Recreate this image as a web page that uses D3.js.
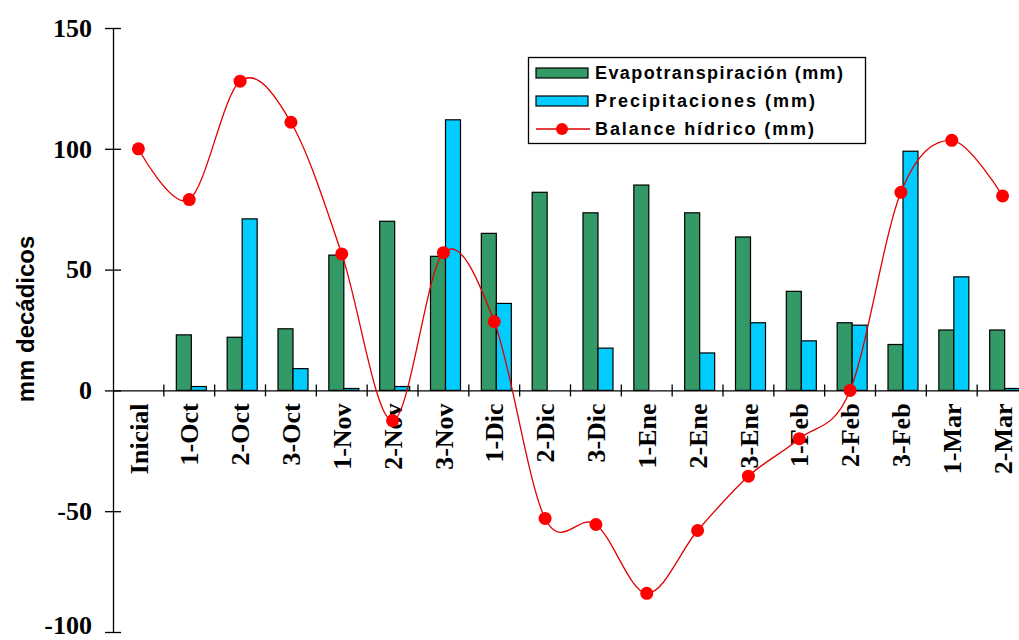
<!doctype html>
<html>
<head>
<meta charset="utf-8">
<style>
    body { margin: 0; background: #fff; }
    svg { display: block; }
    .lbl { font-family: "Liberation Serif", "Times New Roman", serif; font-weight: bold; font-size: 26px; fill: #000; }
    .leg { font-family: "Liberation Sans", Arial, sans-serif; font-weight: bold; font-size: 18px; fill: #000; }
</style>
<script src="https://d3js.org/d3.v7.min.js"></script>
</head>
<body>
<svg width="1019" height="640"></svg>
<script>
var categories = ["Inicial", "1-Oct", "2-Oct", "3-Oct", "1-Nov", "2-Nov", "3-Nov", "1-Dic", "2-Dic",
                  "3-Dic", "1-Ene", "2-Ene", "3-Ene", "1-Feb", "2-Feb", "3-Feb", "1-Mar", "2-Mar"];
var evapo   = [0, 23, 22, 25.5, 56, 70, 55.5, 65, 82, 73.5, 85, 73.5, 63.5, 41, 28, 19, 25, 25];
var precip  = [0, 1.6, 71, 9, 0.8, 1.6, 112, 36, 0, 17.5, 0, 15.5, 28, 20.5, 27, 99, 47, 0.8];
var balance = [100, 79, 128, 111, 56.5, -12.5, 57, 28.5, -53, -55.5, -84, -58, -35.5, -20, 0, 82, 103.5, 80.5];
var yTicks  = [150, 100, 50, 0, -50, -100];
var seriesNames = ["Evapotranspiración (mm)", "Precipitaciones (mm)", "Balance hídrico (mm)"];

var svg = d3.select("svg");

var x0 = d3.scaleBand().domain(categories).range([113, 1028]);
var x1 = d3.scaleBand().domain(["e", "p"]).range([12.5, 42.5]);
var y = d3.scaleLinear().domain([-100, 150]).range([632, 28]);

// bars
var groups = svg.append("g").selectAll("g")
    .data(categories)
    .enter().append("g")
    .attr("transform", function(d) { return "translate(" + x0(d) + ",0)"; });

groups.each(function(c, i) {
    var g = d3.select(this);
    [["e", evapo[i], "#339966"], ["p", precip[i], "#00ccff"]].forEach(function(s) {
        if (s[1] <= 0) return;
        g.append("rect")
            .attr("x", x1(s[0]))
            .attr("y", y(s[1]))
            .attr("width", x1.bandwidth())
            .attr("height", y(0) - y(s[1]))
            .attr("fill", s[2])
            .attr("stroke", "#000")
            .attr("stroke-width", 1.2);
    });
});

// y axis
var yAxis = svg.append("g")
    .attr("transform", "translate(113,0)")
    .call(d3.axisLeft(y).tickValues(yTicks).tickFormat(function(d) { return String(d); })
        .tickSizeInner(8).tickSizeOuter(0).tickPadding(13));
yAxis.select(".domain").attr("stroke", "#000").attr("stroke-width", 1.3);
yAxis.selectAll(".tick line").attr("x1", -8).attr("x2", 8).attr("stroke-width", 1.3);
yAxis.selectAll(".tick text").attr("class", "lbl").attr("font-size", null).attr("font-family", null)
    .attr("y", function(d) { return d === -100 ? -7 : 0; });

// x axis at zero
var xAxis = svg.append("g")
    .attr("transform", "translate(0," + y(0) + ")")
    .call(d3.axisBottom(x0).tickSize(0).tickPadding(0));
xAxis.select(".domain").attr("stroke", "#000").attr("stroke-width", 1.3);
xAxis.selectAll(".tick text")
    .attr("class", "lbl").attr("font-size", null).attr("font-family", null)
    .attr("transform", "rotate(-90)")
    .attr("text-anchor", "end")
    .attr("x", -13).attr("y", 0).attr("dy", "0.35em");
xAxis.selectAll(".sep")
    .data(categories.slice(1))
    .enter().append("line")
    .attr("x1", function(d) { return x0(d); })
    .attr("x2", function(d) { return x0(d); })
    .attr("y1", -6).attr("y2", 6)
    .attr("stroke", "#000").attr("stroke-width", 1.3);

// axis title
svg.append("text")
    .attr("transform", "translate(34,319) rotate(-90)")
    .attr("text-anchor", "middle")
    .attr("font-family", "Liberation Sans, Arial, sans-serif")
    .attr("font-weight", "bold")
    .attr("font-size", 24)
    .text("mm decádicos");

// balance line
var line = d3.line()
    .x(function(d, i) { return x0(categories[i]) + x0.bandwidth() / 2; })
    .y(function(d) { return y(d); })
    .curve(d3.curveCatmullRom.alpha(0));

svg.append("path")
    .datum(balance)
    .attr("d", line)
    .attr("fill", "none")
    .attr("stroke", "#e00000")
    .attr("stroke-width", 1.3);

svg.selectAll(".dot")
    .data(balance)
    .enter().append("circle")
    .attr("cx", function(d, i) { return x0(categories[i]) + x0.bandwidth() / 2; })
    .attr("cy", function(d) { return y(d); })
    .attr("r", 6.5)
    .attr("fill", "#ff0000");

// legend
var leg = svg.append("g");
leg.append("rect")
    .attr("x", 528.5).attr("y", 57.5).attr("width", 337).attr("height", 86)
    .attr("fill", "#fff").attr("stroke", "#000").attr("stroke-width", 1.3);
var rowY = [73, 101, 129];
var widths = [248, 220, 219];
leg.append("rect").attr("x", 536).attr("y", rowY[0] - 5).attr("width", 52).attr("height", 10)
    .attr("fill", "#339966").attr("stroke", "#000").attr("stroke-width", 1.2);
leg.append("rect").attr("x", 536).attr("y", rowY[1] - 5).attr("width", 52).attr("height", 10)
    .attr("fill", "#00ccff").attr("stroke", "#000").attr("stroke-width", 1.2);
leg.append("line").attr("x1", 536).attr("x2", 590).attr("y1", rowY[2]).attr("y2", rowY[2])
    .attr("stroke", "#e00000").attr("stroke-width", 1.3);
leg.append("circle").attr("cx", 562).attr("cy", rowY[2]).attr("r", 6).attr("fill", "#ff0000");
seriesNames.forEach(function(n, i) {
    leg.append("text")
        .attr("class", "leg")
        .attr("x", 595).attr("y", rowY[i])
        .attr("dy", "0.36em")
        .attr("textLength", widths[i])
        .text(n);
});
</script>
</body>
</html>
